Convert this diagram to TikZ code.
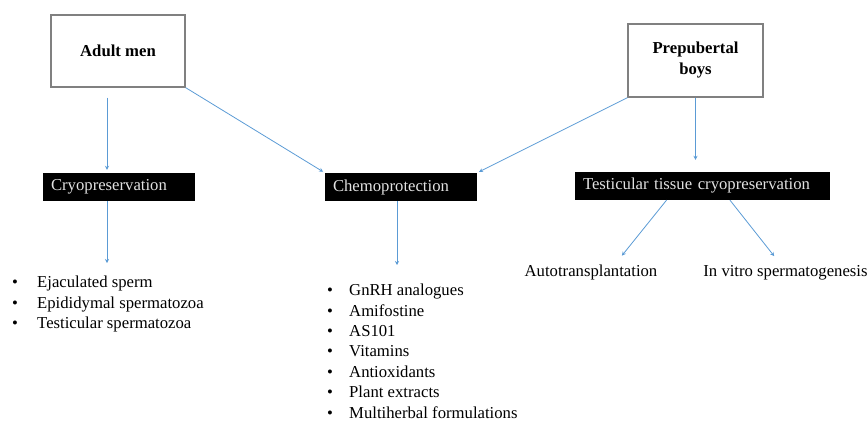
\documentclass[tikz,border=0pt]{standalone}
\usepackage{fontspec}
\setmainfont{Liberation Serif}
\usetikzlibrary{arrows.meta, calc}
\definecolor{LinkBlue}{RGB}{91, 155, 213}
\definecolor{FrameGray}{RGB}{128, 128, 128}
\definecolor{LabelGray}{RGB}{225, 225, 225}
\newcommand{\blt}[1][24pt]{\makebox[#1][l]{\textbullet}}

\begin{document}
\begin{tikzpicture}[
        x=1pt, y=-1pt,
        every node/.style={font=\fontsize{16.7}{20.4}\selectfont},
        group/.style={draw=FrameGray, line width=1.3pt, fill=white, align=center, font=\fontsize{16.7}{21}\selectfont\bfseries},
        method/.style={fill=black, text=LabelGray, inner xsep=8pt, inner ysep=0pt, minimum height=28pt, align=left},
        items/.style={inner sep=0pt, align=left, anchor=north west},
        link/.style={-{Stealth[length=4pt, width=4pt]}, LinkBlue, line width=0.8pt}
    ]
        \useasboundingbox (0,0) rectangle (868,421);

        \node[group, minimum width=134pt, minimum height=72pt] (adult) at (118,51) {Adult men};
        \node[group, minimum width=135pt, minimum height=73pt] (prep) at (695.5,60.5) {Prepubertal\\boys};

        \node[method, text width=136pt] (cryo) at (119,187) {Cryopreservation};
        \node[method, text width=136pt] (chemo) at (401,187) {Chemoprotection};
        \node[method, text width=239pt] (testis) at (702.5,186) {Testicular tissue cryopreservation};

        \node[items] (cryolist) at (12,276) {\blt[25pt]Ejaculated sperm\\ \blt[25pt]Epididymal spermatozoa\\ \blt[25pt]Testicular spermatozoa};
        \node[items] (chemolist) at (327,284) {\blt[22pt]GnRH analogues\\ \blt[22pt]Amifostine\\ \blt[22pt]AS101\\ \blt[22pt]Vitamins\\ \blt[22pt]Antioxidants\\ \blt[22pt]Plant extracts\\ \blt[22pt]Multiherbal formulations};

        \node[inner sep=0pt, anchor=base] (auto) at (591,276) {Autotransplantation};
        \node[inner sep=0pt, anchor=base] (vitro) at (785.5,276) {In vitro spermatogenesis};

        % adult men branch
        \draw[link, shorten <=10pt, shorten >=3pt] ([xshift=-11pt]adult.south) -- ([xshift=-11pt]adult.south |- cryo.north);
        \draw[link, shorten >=13pt] ([xshift=-12pt]cryo.south) -- ([xshift=-12pt]cryo.south |- cryolist.north);
        \draw[link, shorten >=2pt] (adult.south east) -- (chemo.north west);

        % prepubertal boys branch
        \draw[link, shorten >=2pt] (prep.south west) -- (chemo.north east);
        \draw[link, shorten >=12pt] (prep.south) -- (prep.south |- testis.north);
        \draw[link, shorten >=19pt] ([xshift=-4pt]chemo.south) -- ([xshift=-4pt]chemo.south |- chemolist.north);
        \draw[link, shorten >=11pt] ([xshift=-36pt]testis.south) -- ([xshift=24pt]auto.north);
        \draw[link, shorten >=11pt] ([xshift=27.5pt]testis.south) -- ([xshift=-4.5pt]vitro.north);
    \end{tikzpicture}
\end{document}
